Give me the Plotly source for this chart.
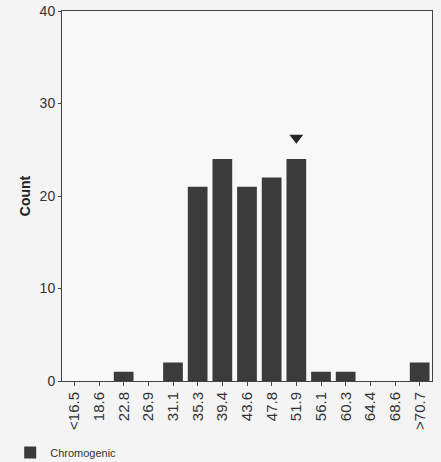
import plotly.graph_objects as go

# histogram bins and counts
bins = ["<16.5", "18.6", "22.8", "26.9", "31.1", "35.3", "39.4", "43.6",
        "47.8", "51.9", "56.1", "60.3", "64.4", "68.6", ">70.7"]
counts = [0, 0, 1, 0, 2, 21, 24, 21, 22, 24, 1, 1, 0, 0, 2]

# arrowhead marking the bin of interest
marker_bin = ["51.9"]
marker_y = [26.3]

y_ticks = [0, 10, 20, 30, 40]

fig = go.Figure()

fig.add_trace(go.Bar(
    x=bins,
    y=counts,
    name="Chromogenic",
    marker=dict(color="#3b3b3b", line=dict(width=0)),
    width=0.8,
))

fig.add_trace(go.Scatter(
    x=marker_bin,
    y=marker_y,
    mode="markers",
    marker=dict(symbol="triangle-down", size=12, color="#262626"),
    showlegend=False,
))

fig.update_layout(
    width=441,
    height=462,
    margin=dict(l=62, r=9, t=11, b=81, autoexpand=False),
    paper_bgcolor="#f4f4f4",
    plot_bgcolor="#f8f8f8",
    font=dict(family="Liberation Sans, Arial", color="#333333", size=14),
    bargap=0.2,
    showlegend=True,
    legend=dict(
        orientation="h",
        x=-0.14,
        y=-0.193,
        xanchor="left",
        yanchor="middle",
        font=dict(size=11, color="#333333"),
        bgcolor="rgba(0,0,0,0)",
        itemwidth=30,
    ),
)

fig.update_xaxes(
    type="category",
    tickangle=-90,
    tickfont=dict(size=15),
    showline=True,
    linecolor="#444444",
    linewidth=1,
    mirror=True,
    ticks="outside",
    ticklen=4,
    tickcolor="#444444",
    showgrid=False,
)

fig.update_yaxes(
    range=[0, 40],
    tickvals=y_ticks,
    tickfont=dict(size=14),
    title=dict(text="<b>Count</b>", font=dict(size=14, color="#222222"), standoff=5),
    showline=True,
    linecolor="#444444",
    linewidth=1,
    mirror=True,
    ticks="outside",
    ticklen=3,
    tickcolor="#444444",
    showgrid=False,
    zeroline=False,
)

# the page body has a default margin; drop it so the figure fills the window
fig.write_html("out.html", config={"displayModeBar": False},
               post_script="document.body.style.margin='0';")
